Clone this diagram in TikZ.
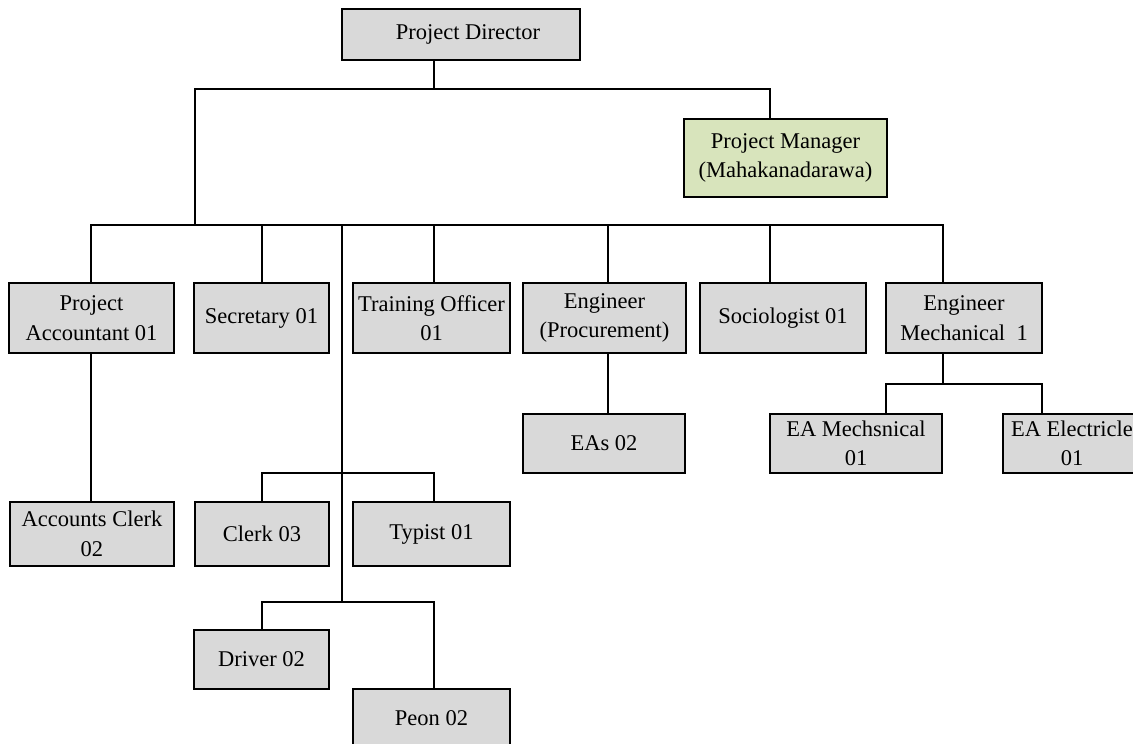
\documentclass[tikz,border=0pt]{standalone}
\usepackage{fontspec}
\setmainfont{Liberation Serif}
\usetikzlibrary{calc}
\definecolor{boxgray}{HTML}{D9D9D9}
\definecolor{boxgreen}{HTML}{D8E4BC}
\tikzset{
	post/.style={draw, fill=boxgray, line width=1.3pt, align=center, inner sep=0pt,
		font=\fontsize{22.5}{29.5}\selectfont},
	wh/.style 2 args={minimum width=#1pt, minimum height=#2pt},
	link/.style={line width=1.3pt},
}

\begin{document}
\begin{tikzpicture}[x=1pt, y=-1pt]
	\useasboundingbox (0,0) rectangle (1133,744);
	\clip (0,0) rectangle (1133,744);
	
	\node[post, wh={238}{51}] (dir) at (461,34.5) {\hspace*{14pt}Project Director};
	\node[post, fill=boxgreen, wh={203}{78}] (pm) at (785.5,158) {Project Manager\\(Mahakanadarawa)};
	
	\node[post, wh={165}{70}] (acc) at (91.5,318) {Project\\Accountant 01};
	\node[post, wh={135}{70}] (sec) at (261.5,318) {Secretary 01};
	\node[post, wh={157}{70}] (tro) at (431.5,318) {Training Officer\\01};
	\node[post, wh={163}{70}] (engp) at (604.5,318) {Engineer\\(Procurement)};
	\node[post, wh={166}{70}] (soc) at (783,318) {Sociologist 01};
	\node[post, wh={156}{70}] (engm) at (964,318) {Engineer\\Mechanical~~1};
	
	\node[post, wh={162}{59}] (eas) at (604,443.5) {EAs 02};
	\node[post, wh={172}{59}] (eam) at (856,443.5) {EA Mechsnical\\01};
	\node[post, wh={138}{59}] (eae) at (1072,443.5) {EA Electricle\\01};
	
	\node[post, wh={164}{64}] (accc) at (92,534) {Accounts Clerk\\02};
	\node[post, wh={134}{64}] (clk) at (262,534) {Clerk 03};
	\node[post, wh={157}{64}] (typ) at (431.5,534) {Typist 01};
	\node[post, wh={135}{59}] (drv) at (261.5,659.5) {Driver 02};
	\node[post, wh={157}{59}] (peon) at (431.5,718.5) {Peon 02};
	
	\coordinate (t0) at (434,89); \coordinate (t1) at (195,89); \coordinate (t2) at (770,89);
	\coordinate (r0) at (342,225); \coordinate (r1) at (91,225); \coordinate (r2) at (262,225);
	\coordinate (r3) at (434,225); \coordinate (r4) at (608,225); \coordinate (r5) at (770,225);
	\coordinate (r6) at (943,225);
	\coordinate (s1) at (342,473); \coordinate (s2) at (342,602);
	\coordinate (m0) at (943,384); \coordinate (m1) at (886,384); \coordinate (m2) at (1042,384);
	
	\draw[link] (t0 |- dir.south) -- (t0);
	\draw[link] (t1 |- r0) -- (t1) -- (t2) -- (t2 |- pm.north);
	\draw[link] (r1 |- acc.north) -- (r1) -- (r6) -- (r6 |- engm.north);
	\foreach \p/\n in {r2/sec, r3/tro, r4/engp, r5/soc}
		\draw[link] (\p) -- (\p |- \n.north);
	\draw[link] (r0) -- (s2);
	\draw[link] (r2 |- clk.north) |- (s1) -| (r3 |- typ.north);
	\draw[link] (r2 |- drv.north) |- (s2) -| (r3 |- peon.north);
	
	\draw[link] (r1 |- acc.south) -- (r1 |- accc.north);
	\draw[link] (r4 |- engp.south) -- (r4 |- eas.north);
	\draw[link] (m0 |- engm.south) -- (m0);
	\draw[link] (m1 |- eam.north) -- (m1) -- (m2) -- (m2 |- eae.north);
\end{tikzpicture}
\end{document}
